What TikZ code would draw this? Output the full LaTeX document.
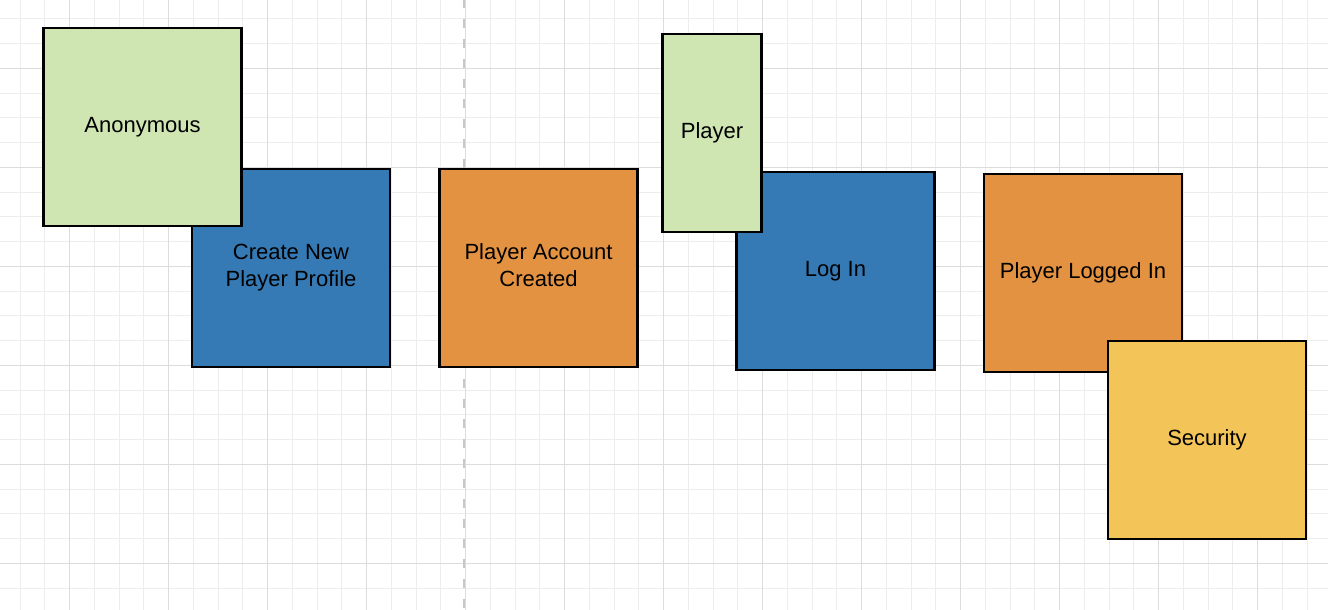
\documentclass[tikz,border=0pt]{standalone}
\usepackage{fontspec}
\setmainfont{Liberation Sans}
\definecolor{gridminor}{HTML}{EDEDED}
\definecolor{gridmajor}{HTML}{DCDCDC}
\definecolor{divider}{HTML}{C8C8C8}
\definecolor{roleG}{HTML}{CFE5B2}
\definecolor{cmdB}{HTML}{357AB5}
\definecolor{evtO}{HTML}{E39241}
\definecolor{polY}{HTML}{F3C457}
\tikzset{
  card/.style={draw=black, line width=2.4pt, rectangle, inner sep=2pt,
    align=center, font=\fontsize{22}{27}\selectfont, text=black, text depth=5pt},
  square/.style={card, minimum width=198pt, minimum height=198pt},
  tall/.style={card, minimum width=99pt, minimum height=198pt},
}
\begin{document}
\begin{tikzpicture}[x=1pt,y=-1pt]
  \useasboundingbox (0,0) rectangle (1328,610);
  \fill[white] (0,0) rectangle (1328,610);
  % background grid
  \foreach \k in {0,...,53}{
    \draw[gridminor, line width=1pt] ({20.2+24.75*\k},0) -- ({20.2+24.75*\k},610);
  }
  \foreach \k in {0,...,24}{
    \draw[gridminor, line width=1pt] (0,{18.8+24.75*\k}) -- (1328,{18.8+24.75*\k});
  }
  \foreach \k in {0,...,13}{
    \draw[gridmajor, line width=1pt] ({69.7+99*\k},0) -- ({69.7+99*\k},610);
  }
  \foreach \k in {0,...,5}{
    \draw[gridmajor, line width=1pt] (0,{68.3+99*\k}) -- (1328,{68.3+99*\k});
  }
  % phase divider
  \coordinate (divtop) at (464.3,0);
  \coordinate (divbot) at (464.3,610);
  \draw[divider, line width=2.2pt, dash pattern=on 9pt off 11pt, dash phase=1pt] (divtop) -- (divbot);

  % commands and events
  \node[square, fill=cmdB] (create) at (291,268) {Create New\\Player Profile};
  \node[square, fill=evtO] (created) at (538.5,268) {Player Account\\Created};
  \node[square, fill=cmdB] (login) at (835.5,271) {Log In};
  \node[square, fill=evtO] (loggedin) at (1083,273) {Player Logged In};
  % actors and policy on top
  \node[square, fill=roleG] (anon) at (142.5,127) {Anonymous};
  \node[tall, fill=roleG] (player) at (712,133) {Player};
  \node[square, fill=polY] (security) at (1207,440) {Security};
\end{tikzpicture}
\end{document}
